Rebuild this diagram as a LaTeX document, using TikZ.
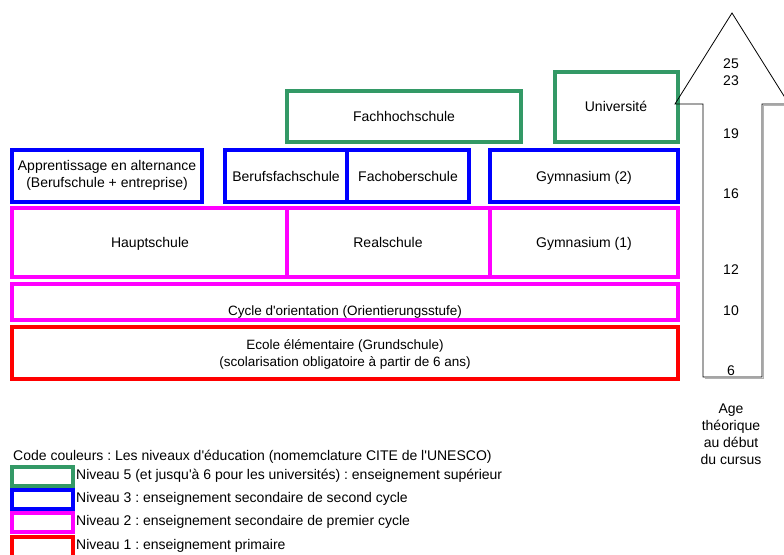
\documentclass[tikz,border=0pt]{standalone}
\usepackage{fontspec}
\setmainfont{Liberation Sans}
\frenchspacing
\definecolor{niveaucinq}{RGB}{51,153,102}
\definecolor{niveautrois}{RGB}{0,0,255}
\definecolor{niveaudeux}{RGB}{255,0,255}
\definecolor{niveauun}{RGB}{255,0,0}
\newcommand{\apos}{\textquotesingle}
\begin{document}
\begin{tikzpicture}[x=1pt, y=-1pt,
    cadre/.style={line width=3.2pt},
    etiquette/.style={font=\fontsize{14}{17}\selectfont, align=center, inner sep=0pt},
    ligne/.style={etiquette, anchor=base},
    etroit/.style={etiquette, font=\fontsize{13.5}{17}\selectfont},
    age/.style={font=\fontsize{14}{17}\selectfont, inner sep=0pt, anchor=base}]
    \useasboundingbox (0,0) rectangle (784,554);
    \clip (0,0) rectangle (784,554);

    % niveau 5
    \draw[cadre, niveaucinq] (287,91) rectangle (521,142);
    \draw[cadre, niveaucinq] (555,72) rectangle (678,142);
    % niveau 3
    \draw[cadre, niveautrois] (12,150) rectangle (202,202);
    \draw[cadre, niveautrois] (225,150) rectangle (347,202);
    \draw[cadre, niveautrois] (347,150) rectangle (469,202);
    \draw[cadre, niveautrois] (490,150) rectangle (678,202);
    % niveau 2
    \draw[cadre, niveaudeux] (12,208) rectangle (287,277);
    \draw[cadre, niveaudeux] (287,208) rectangle (490,277);
    \draw[cadre, niveaudeux] (490,208) rectangle (678,277);
    \draw[cadre, niveaudeux] (12,284) rectangle (678,320);
    % niveau 1
    \draw[cadre, niveauun] (12,327) rectangle (678,379);

    \node[ligne] (fhs) at (404,121) {Fachhochschule};
    \node[ligne] (uni) at (616,111) {Université};
    \node[etiquette] (app) at (107,175) {Apprentissage en alternance\\(Berufschule + entreprise)};
    \node[ligne] (bfs) at (286,181) {Berufsfachschule};
    \node[ligne] (fos) at (408,181) {Fachoberschule};
    \node[ligne] (gym2) at (584,181) {Gymnasium (2)};
    \node[ligne] (hs) at (150,247) {Hauptschule};
    \node[ligne] (rs) at (388,247) {Realschule};
    \node[ligne] (gym1) at (584,247) {Gymnasium (1)};
    \node[etroit, anchor=base] (orient) at (345,315) {Cycle d\apos orientation (Orientierungsstufe)};
    \node[etroit] (gs) at (345,354) {Ecole élémentaire (Grundschule)\\(scolarisation obligatoire à partir de 6 ans)};

    % fleche des ages
    \draw[gray!60, line width=1pt] (704.5,378.5) -- (763.5,378.5) -- (763.5,105.5) -- (785,105.5);
    \draw[black, line width=0.8pt] (703,377) -- (703,104) -- (675,104) -- (732,13)
        -- (789,104) -- (762,104) -- (762,377) -- cycle;
    \foreach \an/\y in {25/68, 23/85, 19/138, 16/198, 12/274, 10/315, 6/375}
        \node[age] (age\an) at (731,\y) {\an};
    \node[etiquette] (agetxt) at (731,434) {Age\\théorique\\au début\\du cursus};

    % legende
    \node[etiquette, anchor=west] (code) at (13,457) {Code couleurs : Les niveaux d\apos éducation (nomemclature CITE de l\apos UNESCO)};
    \draw[cadre, niveaucinq] (12,467) rectangle (73,486);
    \draw[cadre, niveautrois] (12,490) rectangle (73,509);
    \draw[cadre, niveaudeux] (12,513) rectangle (73,532);
    \draw[cadre, niveauun] (12,537) rectangle (73,562);
    \node[etiquette, anchor=west] (leg5) at (76,476) {Niveau 5 (et jusqu\apos à 6 pour les universités) : enseignement supérieur};
    \node[etiquette, anchor=west] (leg3) at (76,499) {Niveau 3 : enseignement secondaire de second cycle};
    \node[etiquette, anchor=west] (leg2) at (76,522) {Niveau 2 : enseignement secondaire de premier cycle};
    \node[etiquette, anchor=west] (leg1) at (76,546) {Niveau 1 : enseignement primaire};
\end{tikzpicture}
\end{document}
